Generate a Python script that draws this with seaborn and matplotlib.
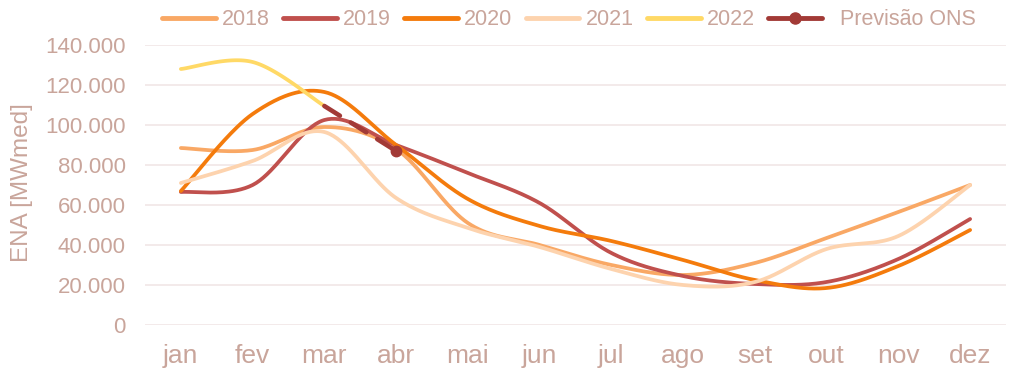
import numpy as np
import pandas as pd
import matplotlib
matplotlib.use("Agg")
import matplotlib.pyplot as plt
from matplotlib.ticker import FuncFormatter, MultipleLocator
from matplotlib.lines import Line2D
import seaborn as sns

meses = ["jan", "fev", "mar", "abr", "mai", "jun", "jul", "ago", "set", "out", "nov", "dez"]
ena_2018 = [88500, 87500, 99000, 88000, 51000, 40000, 30000, 25000, 31000, 43500, 56500, 70000]
ena_2019 = [66500, 70000, 102500, 90000, 76000, 61000, 36000, 24500, 20500, 21500, 33000, 53000]
ena_2020 = [67000, 105500, 116500, 90000, 63000, 49500, 42000, 32500, 22500, 18500, 29500, 47500]
ena_2021 = [71000, 82000, 96500, 63500, 48500, 39000, 28000, 20000, 21500, 38000, 44500, 70000]
ena_2022 = [128000, 131500, 109500]
previsao_meses = ["mar", "abr"]
previsao_ons = [109500, 87000]

series = {"2018": ena_2018, "2019": ena_2019, "2020": ena_2020, "2021": ena_2021, "2022": ena_2022}
cores = {"2018": "#F9A865", "2019": "#C0504D", "2020": "#F47B0C", "2021": "#FDD3AE",
         "2022": "#FFD966", "Previsão ONS": "#A23A36"}
txt = "#C9A59B"


def smooth(xs, ys, n=40):
    xs = np.asarray(xs, float)
    ys = np.asarray(ys, float)
    P = np.column_stack([xs, ys])
    out = []
    m = len(P)
    for i in range(m - 1):
        p0 = P[i - 1] if i > 0 else P[i]
        p1 = P[i]
        p2 = P[i + 1]
        p3 = P[i + 2] if i + 2 < m else P[i + 1]
        c1 = p1 + (p2 - p0) / 6.0
        c2 = p2 - (p3 - p1) / 6.0
        t = np.linspace(0, 1, n, endpoint=(i == m - 2))[:, None]
        b = ((1 - t) ** 3) * p1 + 3 * ((1 - t) ** 2) * t * c1 + 3 * (1 - t) * t ** 2 * c2 + t ** 3 * p2
        out.append(b)
    return np.vstack(out)


rows = []
for ano, vals in series.items():
    s = smooth(range(len(vals)), vals)
    for x, y in s:
        rows.append({"x": x, "y": y, "ano": ano})
df = pd.DataFrame(rows)

sns.set_theme(style="white")
plt.rcParams["font.family"] = ["Liberation Sans", "DejaVu Sans"]

fig = plt.figure(figsize=(10.24, 3.76), dpi=100)
ax = fig.add_axes([145 / 1024, 1 - 325 / 376, 861 / 1024, 280 / 376])

for ano in series:
    sub = df[df["ano"] == ano]
    sns.lineplot(data=sub, x="x", y="y", color=cores[ano], linewidth=2.7, ax=ax,
                 sort=False, estimator=None, legend=False, solid_capstyle="round")

px = [meses.index(m) for m in previsao_meses]
ps = smooth(px, previsao_ons)
sns.lineplot(x=ps[:, 0], y=ps[:, 1], color=cores["Previsão ONS"], linewidth=3.3, ax=ax,
             sort=False, estimator=None, legend=False)
ax.lines[-1].set_dashes([4.0, 2.8])
ax.lines[-1].set_dash_capstyle("round")
ax.plot([px[-1]], [previsao_ons[-1]], "o", color=cores["Previsão ONS"], markersize=7.5)

ax.set_xlim(-0.5, 11.5)
ax.set_ylim(0, 140000)
ax.set_xticks(range(12))
ax.set_xticklabels(meses)
ax.yaxis.set_major_locator(MultipleLocator(20000))
ax.yaxis.set_major_formatter(FuncFormatter(lambda v, p: f"{v:,.0f}".replace(",", ".")))
ax.tick_params(axis="x", length=0, pad=13.5, labelsize=19, colors=txt)
ax.tick_params(axis="y", length=0, pad=14, labelsize=16, colors=txt)
ax.grid(axis="y", color="#F1E6E6", linewidth=1.2)
ax.set_axisbelow(True)
for s in ax.spines.values():
    s.set_visible(False)
ax.set_xlabel("")
ax.set_ylabel("ENA [MWmed]", fontsize=17.5, color=txt)
ax.yaxis.set_label_coords((33 - 145) / 861, 0.51)

handles = [Line2D([], [], color=cores[a], linewidth=3.5, solid_capstyle="round") for a in series]
handles.append(Line2D([], [], color=cores["Previsão ONS"], linewidth=3.5, linestyle=(0, (5.2, 1.6)),
                      dash_capstyle="round", marker="o", markersize=8))
labels = list(series.keys()) + ["  Previsão ONS"]
leg = ax.legend(handles, labels, loc="center", bbox_to_anchor=(0.4925, 1.09), ncol=6, frameon=False,
                fontsize=15.5, handlelength=2.5, handletextpad=0.3, columnspacing=0.6,
                labelcolor=txt)

fig.savefig("out.png", dpi=100)
